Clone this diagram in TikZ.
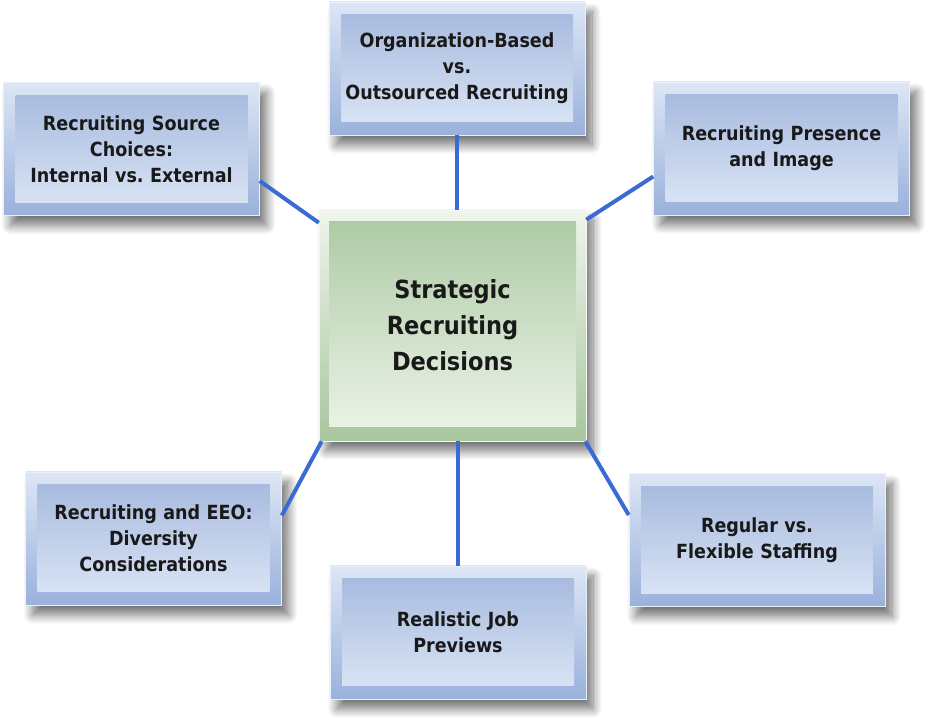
\documentclass[tikz,border=0pt]{standalone}
\usepackage{fontspec}
\setmainfont{DejaVu Sans Condensed}
\usetikzlibrary{shadows.blur}
\definecolor{frtop}{HTML}{DCE6F5}
\definecolor{frbot}{HTML}{9AB1DC}
\definecolor{intop}{HTML}{A3B7DD}
\definecolor{inbot}{HTML}{DDE7F6}
\definecolor{gfrtop}{HTML}{EFF5EC}
\definecolor{gfrbot}{HTML}{A8C69F}
\definecolor{gintop}{HTML}{ABC9A2}
\definecolor{ginbot}{HTML}{EEF4EA}
\definecolor{linkblue}{HTML}{3A6BD4}
\tikzset{
  sh/.style={blur shadow={shadow xshift=7pt, shadow yshift=-10pt, shadow blur radius=9pt, shadow blur steps=14, shadow opacity=55}},
  box/.style={rectangle, minimum width=256pt, minimum height=133pt, text width=236pt, align=center, text=black!90, font=\bfseries\fontsize{19.5}{26}\selectfont, top color=frtop, bottom color=frbot, draw=frtop!60!white, line width=0.6pt, sh,
    path picture={\shade[top color=intop, bottom color=inbot] ([shift={(12pt,-13pt)}]path picture bounding box.north west) rectangle ([shift={(-12pt,13pt)}]path picture bounding box.south east);}},
  cbox/.style={rectangle, minimum width=267pt, minimum height=231pt, text width=240pt, align=center, text=black!90, font=\bfseries\fontsize{25}{36}\selectfont, top color=gfrtop, bottom color=gfrbot, draw=gfrtop!60!white, line width=0.6pt, sh,
    path picture={\shade[top color=gintop, bottom color=ginbot] ([shift={(10pt,-12pt)}]path picture bounding box.north west) rectangle ([shift={(-10pt,14pt)}]path picture bounding box.south east);}},
  link/.style={line width=4pt, draw=linkblue}
}
\begin{document}
\begin{tikzpicture}[x=1pt, y=1pt]
	\useasboundingbox (0,0) rectangle (934,727);
	\node[cbox] (sd) at (452.5,401.5) {Strategic\\Recruiting\\Decisions};

	\node[box] (org) at (457,658.5) {Organization-Based\\vs.\\Outsourced Recruiting};
	\node[box] (src) at (131.5,578) {Recruiting Source\\Choices:\\Internal vs.\ External};
	\node[box] (pres) at (781.5,578.5) {Recruiting Presence\\and Image};

	\node[box] (eeo) at (153.5,188.5) {Recruiting and EEO:\\Diversity\\Considerations};
	\node[box] (rjp) at (458,94.5) {Realistic Job\\Previews};
	\node[box] (flex) at (757,187) {Regular vs.\\Flexible Staffing};
	%
	\draw[link] (org.south) -- (org.south |- sd.north);
	\draw[link] ([yshift=-32pt]src.east) -- ([yshift=-13pt]sd.north west);
	\draw[link] ([yshift=-10pt]sd.north east) -- ([yshift=-28pt]pres.west);

	\draw[link] ([xshift=3pt]sd.south west) -- ([yshift=23pt]eeo.east);
	\draw[link] (rjp.north) -- (rjp.north |- sd.south);
	\draw[link] ([xshift=-1pt]sd.south east) -- ([yshift=25pt]flex.west);
\end{tikzpicture}
\end{document}
